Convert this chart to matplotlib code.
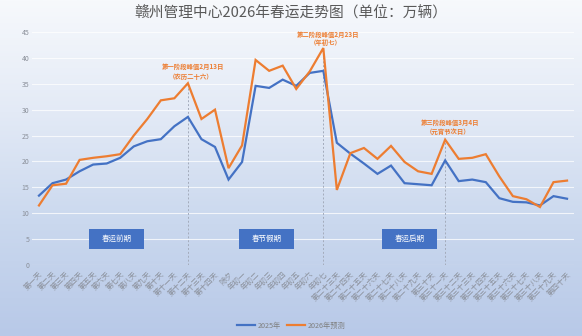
import numpy as np
import matplotlib
matplotlib.use("Agg")
import matplotlib.pyplot as plt
from matplotlib.colors import LinearSegmentedColormap

plt.rcParams['font.family'] = ['Noto Sans CJK SC', 'DejaVu Sans']

days = ["第一天", "第二天", "第三天", "第四天", "第五天", "第六天", "第七天", "第八天",
        "第九天", "第十天", "第十一天", "第十二天", "第十三天", "第十四天", "除夕",
        "年初一", "年初二", "年初三", "年初四", "年初五", "年初六", "年初七",
        "第二十三天", "第二十四天", "第二十五天", "第二十六天", "第二十七天", "第二十八天",
        "第二十九天", "第三十天", "第三十一天", "第三十二天", "第三十三天", "第三十四天",
        "第三十五天", "第三十六天", "第三十七天", "第三十八天", "第三十九天", "第四十天"]

flow_2025 = [13.4, 15.8, 16.5, 18.1, 19.4, 19.6, 20.7, 22.9, 23.9, 24.3,
             26.8, 28.6, 24.3, 22.8, 16.5, 19.9, 34.6, 34.2, 35.8, 34.6,
             37.1, 37.5, 23.6, 21.5, 19.6, 17.6, 19.2, 15.8, 15.6, 15.4,
             20.2, 16.2, 16.5, 16.0, 12.9, 12.2, 12.1, 11.5, 13.3, 12.8]

flow_2026 = [11.5, 15.4, 15.7, 20.3, 20.7, 21.0, 21.4, 25.0, 28.2, 31.8,
             32.2, 35.1, 28.2, 30.0, 18.7, 23.1, 39.6, 37.5, 38.5, 34.0,
             37.4, 41.9, 14.5, 21.6, 22.6, 20.5, 23.0, 19.9, 18.1, 17.6,
             24.2, 20.5, 20.7, 21.4, 17.1, 13.3, 12.7, 11.2, 16.0, 16.3]

peak_idx = [11, 21, 30]
peak_titles = ["第一阶段峰值2月13日", "第二阶段峰值2月23日", "第三阶段峰值3月4日"]
peak_notes = ["（农历二十六）", "（年初七）", "（元宵节次日）"]
peak_text_y = [(38.3, 36.5), (44.6, 42.9), (27.6, 25.7)]

phases = ["春运前期", "春节假期", "春运后期"]
phase_x = [5.76, 16.8, 27.4]
phase_y = 5.0

series_names = ["2025年", "2026年预测"]
BLUE = "#4472C4"
ORANGE = "#ED7D31"
GRAY = "#7F7F7F"

fig = plt.figure(figsize=(5.82, 3.36), dpi=100)

# soft vertical background gradient
bg = fig.add_axes([0, 0, 1, 1], zorder=-10)
cmap = LinearSegmentedColormap.from_list(
    "bg", ["#B8C9E8", "#CAD8EE", "#E3EAF6", "#F7F9FC"])
grad = np.linspace(0, 1, 256).reshape(-1, 1)
bg.imshow(grad, aspect="auto", cmap=cmap, origin="lower", extent=[0, 1, 0, 1])
bg.set_axis_off()

ax = fig.add_axes([32.2 / 582, (336 - 265) / 336, 541.6 / 582, 233 / 336])
ax.patch.set_alpha(0)
x = np.arange(len(days))

ax.set_xlim(-0.5, len(days) - 0.5)
ax.set_ylim(0, 45)
ax.set_yticks(np.arange(0, 46, 5))
ax.yaxis.grid(True, color="white", alpha=0.75, lw=0.8)
ax.set_axisbelow(True)
for s in ax.spines.values():
    s.set_visible(False)
ax.tick_params(axis="both", length=0, colors="#8A8F99", labelsize=5)
ax.tick_params(axis="y", pad=2)
ax.set_xticks(x)
ax.set_xticklabels(days, rotation=45, ha="right", rotation_mode="anchor", fontsize=5.4)
ax.tick_params(axis="x", pad=4)

l1, = ax.plot(x, flow_2025, color=BLUE, lw=1.6, solid_joinstyle="miter", zorder=3)
l2, = ax.plot(x, flow_2026, color=ORANGE, lw=1.6, solid_joinstyle="miter", zorder=4)

for i, t, n, (y1, y2) in zip(peak_idx, peak_titles, peak_notes, peak_text_y):
    ax.plot([i, i], [0, flow_2026[i]], color="#A3ABBB", lw=0.7, ls=(0, (2, 2)), zorder=2)
    ax.text(i + 0.35, y1, t, color=ORANGE, fontsize=4.6, fontweight="bold",
            ha="center", va="center", clip_on=False)
    ax.text(i + 0.2, y2, n, color=ORANGE, fontsize=4.6, fontweight="bold",
            ha="center", va="center", clip_on=False)

# phase labels on fixed-size blue boxes
box_w = 55 / 13.54
box_h = 20 / 5.18
for label, px in zip(phases, phase_x):
    ax.add_patch(plt.Rectangle((px - box_w / 2, phase_y - box_h / 2), box_w, box_h,
                               fc=BLUE, ec="none", zorder=4.5))
    ax.text(px, phase_y, label, color="white", fontsize=5.4, ha="center", va="center",
            zorder=5)

fig.text(0.5, 1 - 13 / 336, "赣州管理中心2026年春运走势图（单位：万辆）",
         ha="center", va="center", fontsize=10.6, color="#595959")

fig.legend([l1, l2], series_names, loc="center", bbox_to_anchor=(0.5, 10 / 336),
           ncol=2, frameon=False, fontsize=5.2, handlelength=2.6, columnspacing=0.8,
           handletextpad=0.3, labelcolor=GRAY)

fig.savefig("out.png", dpi=100)
